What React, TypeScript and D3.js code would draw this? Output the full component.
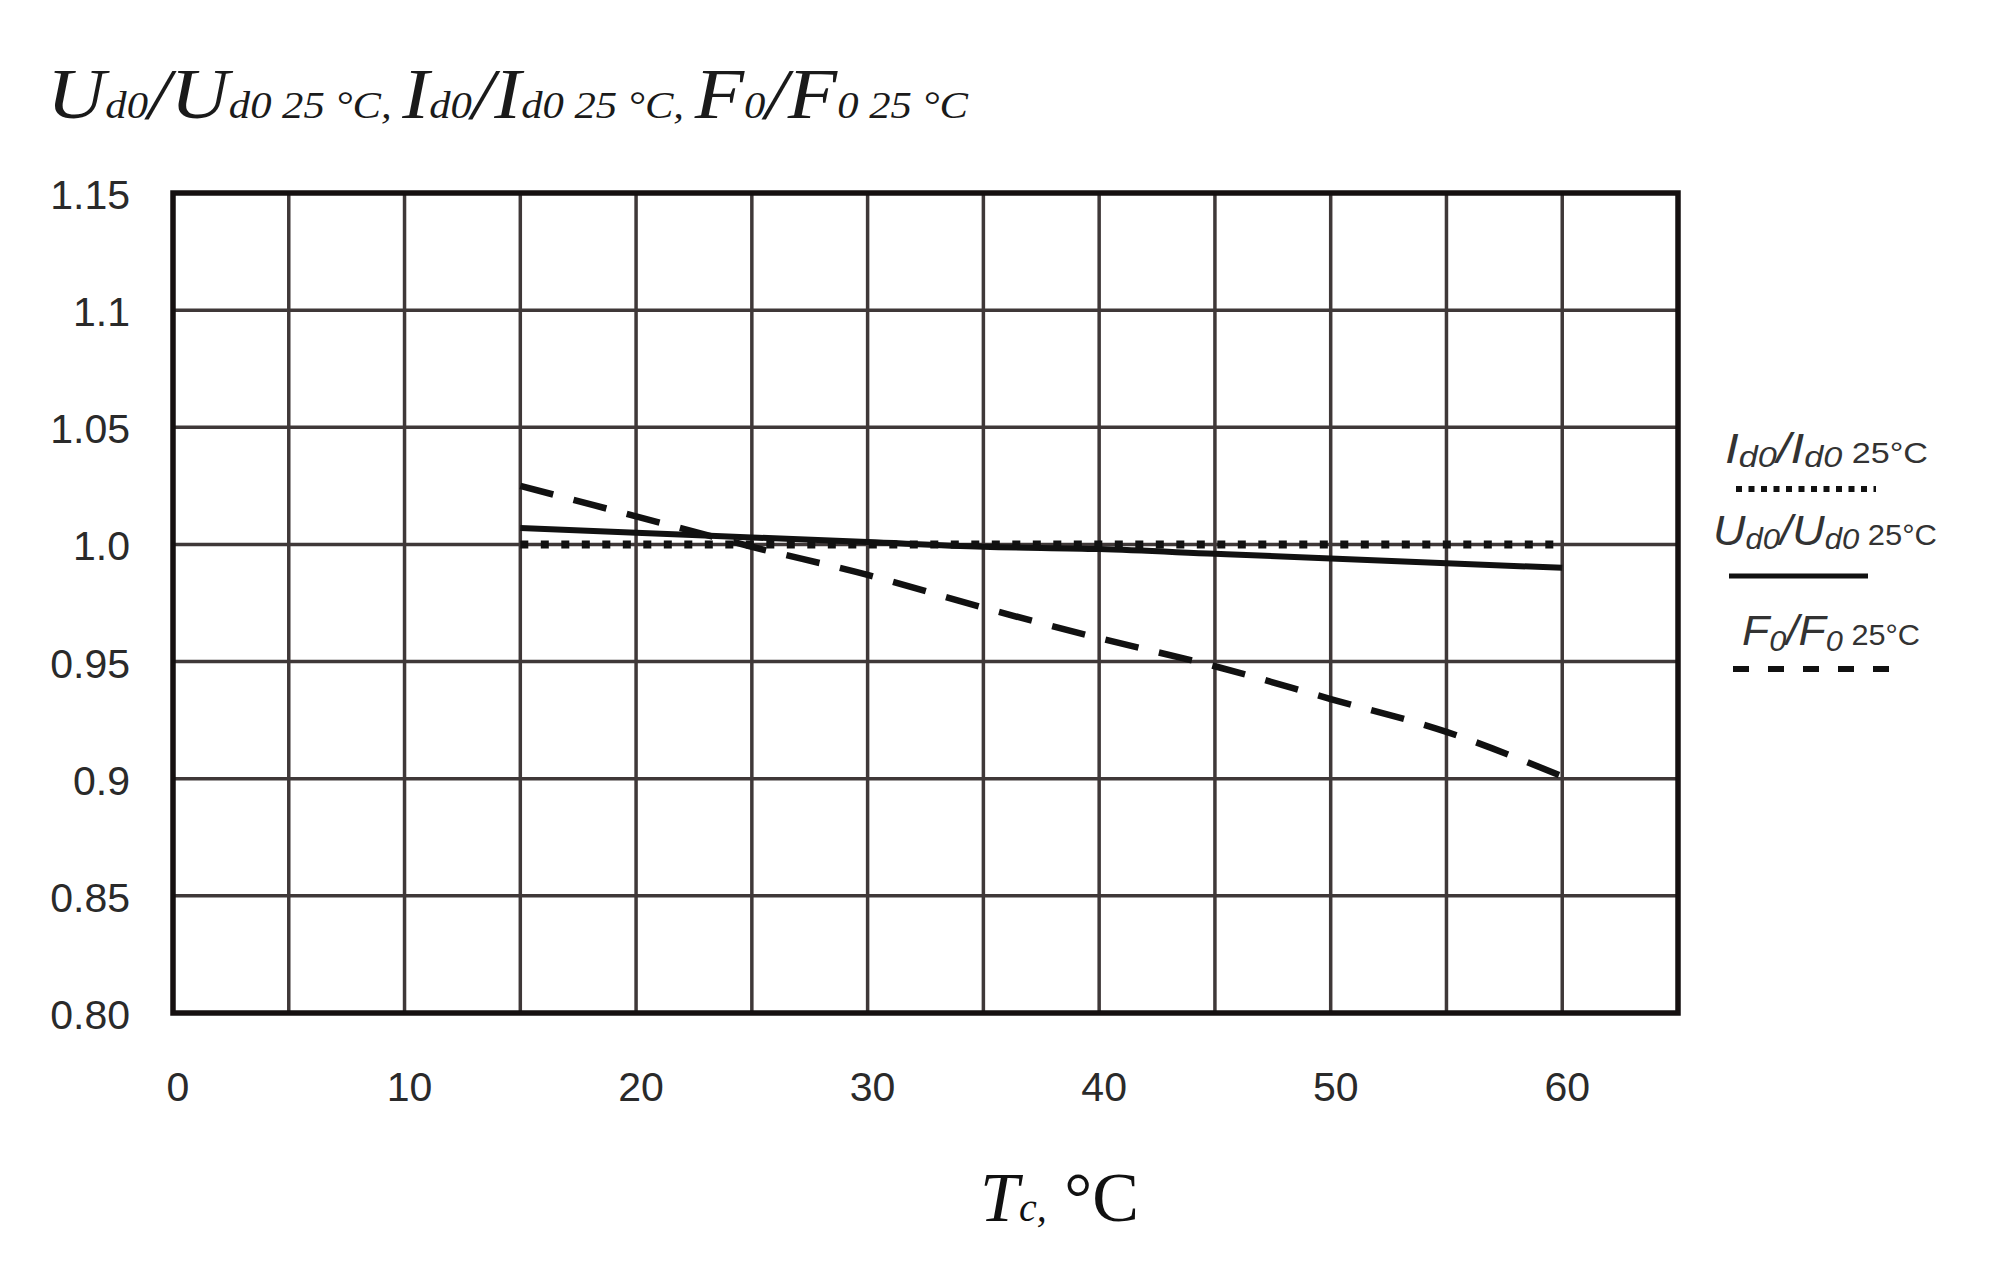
import React from "react";
import * as d3 from "d3";

// ---- data ----
const temps = [15, 20, 25, 30, 35, 40, 45, 50, 55, 60];
const idRatio = [1.0, 1.0, 1.0, 1.0, 1.0, 1.0, 1.0, 1.0, 1.0, 1.0];
const udRatio = [1.007, 1.005, 1.003, 1.001, 0.999, 0.998, 0.996, 0.994, 0.992, 0.99];
const fRatio = [1.025, 1.012, 0.999, 0.987, 0.973, 0.96, 0.948, 0.934, 0.92, 0.901];

const xTickValues = [0, 10, 20, 30, 40, 50, 60];
const xGridValues = [5, 10, 15, 20, 25, 30, 35, 40, 45, 50, 55, 60];
const yTickValues = [0.8, 0.85, 0.9, 0.95, 1.0, 1.05, 1.1, 1.15];
const yTickLabels = ["0.80", "0.85", "0.9", "0.95", "1.0", "1.05", "1.1", "1.15"];
const yGridValues = [0.85, 0.9, 0.95, 1.0, 1.05, 1.1];

const W = 2005;
const H = 1272;

export default function App() {
  const x = d3.scaleLinear().domain([0, 65]).range([173, 1678]);
  const y = d3.scaleLinear().domain([0.8, 1.15]).range([1013, 193]);

  const line = d3
    .line<[number, number]>()
    .x((d) => x(d[0]))
    .y((d) => y(d[1]))
    .curve(d3.curveMonotoneX);

  const idPts = temps.map((t, i) => [t, idRatio[i]] as [number, number]);
  const udPts = temps.map((t, i) => [t, udRatio[i]] as [number, number]);
  const fPts = temps.map((t, i) => [t, fRatio[i]] as [number, number]);

  const gridColor = "#3f3838";
  const sans = "'Liberation Sans', Arial, sans-serif";
  const serif = "'Liberation Serif', 'Times New Roman', serif";

  return (
    <svg
      width={W}
      height={H}
      style={{ position: "absolute", left: 0, top: 0, background: "#fff" }}
    >
      <rect x={0} y={0} width={W} height={H} fill="#fff" />

      {/* title */}
      <text
        x={47}
        y={118}
        fontFamily={serif}
        fontStyle="italic"
        fill="#1a1a1a"
        textLength={921}
        lengthAdjust="spacingAndGlyphs"
      >
        <tspan fontSize={72}>U</tspan>
        <tspan fontSize={38}>d0</tspan>
        <tspan fontSize={72}>/U</tspan>
        <tspan fontSize={38}>{"d0 25 °C, "}</tspan>
        <tspan fontSize={72}>{" I"}</tspan>
        <tspan fontSize={38}>d0</tspan>
        <tspan fontSize={72}>/I</tspan>
        <tspan fontSize={38}>{"d0 25 °C, "}</tspan>
        <tspan fontSize={72}>F</tspan>
        <tspan fontSize={38}>0</tspan>
        <tspan fontSize={72}>/F</tspan>
        <tspan fontSize={38}>{"0 25 °C"}</tspan>
      </text>

      {/* grid */}
      {xGridValues.map((v) => (
        <line
          key={"gx" + v}
          x1={x(v)}
          x2={x(v)}
          y1={y(1.15)}
          y2={y(0.8)}
          stroke={gridColor}
          strokeWidth={3.5}
        />
      ))}
      {yGridValues.map((v) => (
        <line
          key={"gy" + v}
          x1={x(0)}
          x2={x(65)}
          y1={y(v)}
          y2={y(v)}
          stroke={gridColor}
          strokeWidth={3.5}
        />
      ))}
      <rect
        x={x(0)}
        y={y(1.15)}
        width={x(65) - x(0)}
        height={y(0.8) - y(1.15)}
        fill="none"
        stroke="#151010"
        strokeWidth={5.5}
      />

      {/* y tick labels */}
      {yTickValues.map((v, i) => (
        <text
          key={"yt" + v}
          x={130}
          y={y(v) + 2}
          textAnchor="end"
          dominantBaseline="central"
          fontFamily={sans}
          fontSize={41}
          fill="#2a2a2a"
        >
          {yTickLabels[i]}
        </text>
      ))}

      {/* x tick labels */}
      {xTickValues.map((v) => (
        <text
          key={"xt" + v}
          x={x(v) + 5}
          y={1087}
          textAnchor="middle"
          dominantBaseline="central"
          fontFamily={sans}
          fontSize={41}
          fill="#2a2a2a"
        >
          {v}
        </text>
      ))}

      {/* x axis title */}
      <text x={980} y={1221} fontFamily={serif} fill="#111">
        <tspan fontStyle="italic" fontSize={70}>T</tspan>
        <tspan fontStyle="italic" fontSize={40}>c,</tspan>
        <tspan fontSize={70}>{" °C"}</tspan>
      </text>

      {/* series */}
      <path
        d={line(idPts) || ""}
        fill="none"
        stroke="#111"
        strokeWidth={8}
        strokeDasharray="8 12.5"
      />
      <path d={line(udPts) || ""} fill="none" stroke="#111" strokeWidth={6} />
      <path
        d={line(fPts) || ""}
        fill="none"
        stroke="#111"
        strokeWidth={6.5}
        strokeDasharray="34 21"
      />

      {/* legend */}
      <text
        x={1725}
        y={463}
        fontFamily={sans}
        fill="#333"
        textLength={203}
        lengthAdjust="spacingAndGlyphs"
      >
        <tspan fontStyle="italic" fontSize={42}>I</tspan>
        <tspan fontStyle="italic" fontSize={29} dy={4}>d0</tspan>
        <tspan fontStyle="italic" fontSize={42} dy={-4}>/I</tspan>
        <tspan fontStyle="italic" fontSize={29} dy={4}>d0</tspan>
        <tspan fontSize={29} dy={-4}>{" 25°C"}</tspan>
      </text>
      <line x1={1736} x2={1876} y1={489} y2={489} stroke="#111" strokeWidth={6} strokeDasharray="6 6.5" />

      <text
        x={1713}
        y={545}
        fontFamily={sans}
        fill="#333"
        textLength={224}
        lengthAdjust="spacingAndGlyphs"
      >
        <tspan fontStyle="italic" fontSize={42}>U</tspan>
        <tspan fontStyle="italic" fontSize={29} dy={4}>d0</tspan>
        <tspan fontStyle="italic" fontSize={42} dy={-4}>/U</tspan>
        <tspan fontStyle="italic" fontSize={29} dy={4}>d0</tspan>
        <tspan fontSize={29} dy={-4}>{" 25°C"}</tspan>
      </text>
      <line x1={1729} x2={1868} y1={576} y2={576} stroke="#111" strokeWidth={5} />

      <text
        x={1742}
        y={645}
        fontFamily={sans}
        fill="#333"
        textLength={178}
        lengthAdjust="spacingAndGlyphs"
      >
        <tspan fontStyle="italic" fontSize={42}>F</tspan>
        <tspan fontStyle="italic" fontSize={29} dy={6}>0</tspan>
        <tspan fontStyle="italic" fontSize={42} dy={-6}>/F</tspan>
        <tspan fontStyle="italic" fontSize={29} dy={6}>0</tspan>
        <tspan fontSize={29} dy={-6}>{" 25°C"}</tspan>
      </text>
      <line x1={1733} x2={1890} y1={669} y2={669} stroke="#111" strokeWidth={6} strokeDasharray="16 19" />
    </svg>
  );
}
